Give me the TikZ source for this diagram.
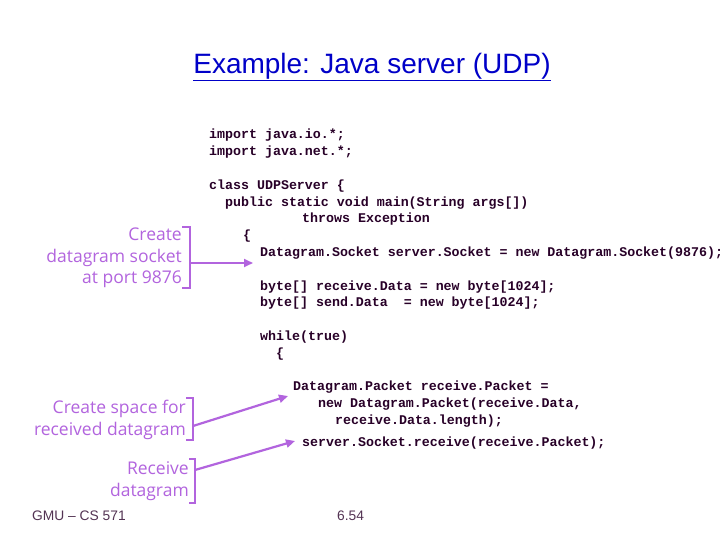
\documentclass[tikz,border=0pt]{standalone}
\usepackage{fontspec}
\setmainfont{Liberation Sans}
\newfontfamily\codefont{Liberation Mono}
\newfontfamily\notefont{Open Sans}
\usetikzlibrary{arrows.meta}
\definecolor{codec}{RGB}{40,0,40}
\definecolor{notec}{RGB}{178,100,222}
\definecolor{titlec}{RGB}{0,0,200}
\begin{document}
\begin{tikzpicture}[x=1pt,y=-1pt,
  code/.style={anchor=west,inner sep=0pt,text=codec,font=\codefont\bfseries\fontsize{13.3}{14}\selectfont},
  note/.style={anchor=east,align=right,inner sep=0pt,text=notec,font=\notefont\fontsize{17.5}{21.5}\selectfont},
  brk/.style={draw=notec,line width=2.2pt},
  arr/.style={draw=notec,line width=2.2pt,-{Triangle[length=9pt,width=8pt]}}]
\useasboundingbox[fill=white] (0,0) rectangle (720,540);
\node[inner sep=0pt,text=titlec,font=\fontsize{28}{30}\selectfont] (title) at (372,67) {\underline{Example: Java server (UDP)}};
\node[code] (c1) at (209,135) {import java.io.*;};
\node[code] (c2) at (209,152) {import java.net.*;};
\node[code] (c3) at (209,186) {class UDPServer \{};
\node[code] (c4) at (225,203) {public static void main(String args[])};
\node[code] (c5) at (302,219) {throws Exception};
\node[code] (c6) at (243,236) {\{};
\node[code] (c7) at (260,253) {Datagram.Socket server.Socket = new Datagram.Socket(9876);};
\node[code] (c8) at (260,287) {byte[] receive.Data = new byte[1024];};
\node[code] (c9) at (260,303) {byte[] send.Data~~= new byte[1024];};
\node[code] (c10) at (260,337) {while(true)};
\node[code] (c11) at (276,354) {\{};
\node[code] (c12) at (293,387) {Datagram.Packet receive.Packet =};
\node[code] (c13) at (318,404) {new Datagram.Packet(receive.Data,};
\node[code] (c14) at (335,421) {receive.Data.length);};
\node[code] (c15) at (302,443) {server.Socket.receive(receive.Packet);};
\node[note] (n1) at (182,258) {Create\\datagram socket\\at port 9876};
\node[note] (n2) at (186,420) {Create space for\\received datagram};
\node[note] (n3) at (189,481) {Receive\\datagram};
\draw[brk] (182,227) -- (190,227) -- (190,288) -- (182,288);
\draw[brk] (186,398) -- (193,398) -- (193,440) -- (186,440);
\draw[brk] (189,459) -- (195,459) -- (195,503) -- (189,503);
\coordinate (a1) at (253,263);
\coordinate (a2) at (288,396);
\coordinate (a3) at (295,441);
\draw[arr] (190,263) -- (a1);
\draw[arr] (193,426) -- (a2);
\draw[arr] (195,470) -- (a3);
\node[anchor=west,inner sep=0pt,text=codec!80,font=\fontsize{13.8}{15}\selectfont] (f1) at (32,516) {GMU -- CS 571};
\node[anchor=west,inner sep=0pt,text=codec!80,font=\fontsize{13.8}{15}\selectfont] (f2) at (337,516) {6.54};
\end{tikzpicture}
\end{document}
